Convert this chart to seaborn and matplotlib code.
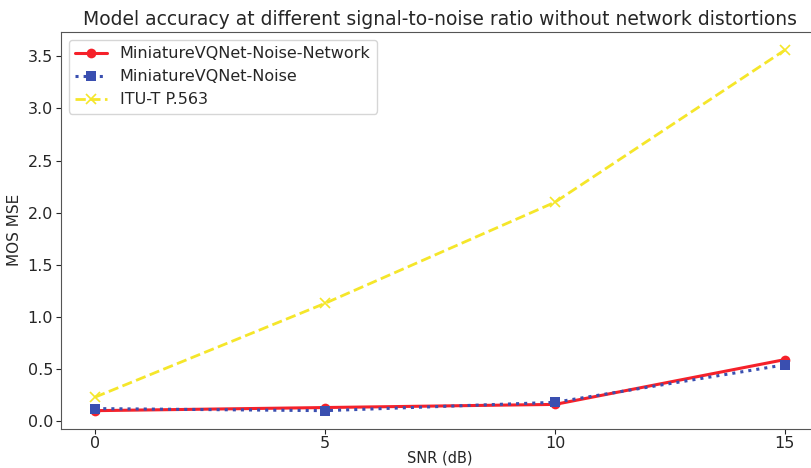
import matplotlib
matplotlib.use("Agg")
import matplotlib.pyplot as plt
import seaborn as sns
import pandas as pd

snr = [0, 5, 10, 15]
noise_network = [0.10, 0.13, 0.16, 0.59]
noise_only = [0.12, 0.10, 0.18, 0.54]
p563 = [0.23, 1.13, 2.10, 3.56]

sns.set_style("ticks")
plt.rcParams['font.family'] = ['DejaVu Sans']

fig = plt.figure(figsize=(8.11, 4.68), dpi=100)
ax = fig.add_axes([0.0748, 0.084, 0.9355, 0.848])

df1 = pd.DataFrame({"SNR": snr, "MSE": noise_network})
df2 = pd.DataFrame({"SNR": snr, "MSE": noise_only})
df3 = pd.DataFrame({"SNR": snr, "MSE": p563})

sns.lineplot(data=df1, x="SNR", y="MSE", ax=ax, color="#f5212a", linewidth=2.2,
             marker="o", markersize=7, markeredgewidth=0, label="MiniatureVQNet-Noise-Network")
sns.lineplot(data=df2, x="SNR", y="MSE", ax=ax, color="#3a4fb0", linewidth=2.2, linestyle=":",
             marker="s", markersize=7, markeredgewidth=0, label="MiniatureVQNet-Noise")
sns.lineplot(data=df3, x="SNR", y="MSE", ax=ax, color="#f5e62a", linewidth=2.0, linestyle="--",
             marker="x", markersize=6.5, markeredgecolor="#f5e62a", markeredgewidth=1.2,
             label="ITU-T P.563")

ax.set_xticks([0, 5, 10, 15])
ax.set_yticks([0.0, 0.5, 1.0, 1.5, 2.0, 2.5, 3.0, 3.5])
ax.set_xlim(-0.75, 15.75)
ax.set_ylim(-0.073, 3.735)
ax.tick_params(labelsize=11.5, length=3.5)
ax.tick_params(axis="x", pad=1.5)
ax.tick_params(axis="y", pad=2)
ax.set_xlabel("SNR (dB)", fontsize=10.5, labelpad=0)
ax.set_ylabel("MOS MSE", fontsize=11, labelpad=4)
ax.set_title("Model accuracy at different signal-to-noise ratio without network distortions", fontsize=13.5, pad=5)
ax.legend(loc="upper left", fontsize=11.5, frameon=True)
for s in ax.spines.values():
    s.set_color("#555555")

fig.savefig("out.png", dpi=100)
